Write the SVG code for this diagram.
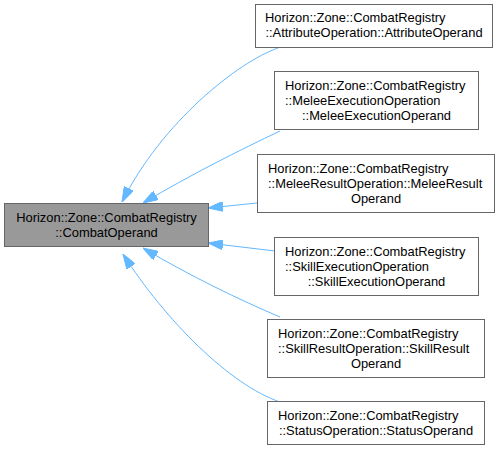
<svg xmlns="http://www.w3.org/2000/svg" width="501" height="451" viewBox="0 0 501 451">
<style>
.box{fill:#ffffff;stroke:#666666;stroke-width:1}
.main{fill:#999999;stroke:#666666;stroke-width:1}
text{font-family:"Liberation Sans",Arial,sans-serif;font-size:12.9px;fill:#000000}
.c{text-anchor:middle}
.edge{fill:none;stroke:#63b8ff;stroke-width:1}
</style>
<defs>
<marker id="ah" markerUnits="userSpaceOnUse" viewBox="0 0 15 10" refX="15" refY="5" markerWidth="15" markerHeight="10" orient="auto">
<path d="M0,0 L15,5 L0,10 Z" fill="#63b8ff" stroke="#63b8ff" stroke-width="1"/>
</marker>
</defs>
<rect width="501" height="451" fill="#ffffff"/>
<g id="connectors">
<path class="edge" marker-end="url(#ah)" d="M278,48 C238,62 162,122 122,202"/>
<path class="edge" marker-end="url(#ah)" d="M280,131 C240,150 190,175 143,203"/>
<path class="edge" marker-end="url(#ah)" d="M257,203 L208,208"/>
<path class="edge" marker-end="url(#ah)" d="M275,251 L208,243"/>
<path class="edge" marker-end="url(#ah)" d="M280,317 C240,300 190,276 143,248"/>
<path class="edge" marker-end="url(#ah)" d="M280,402 C230,385 165,320 123,254"/>
</g>
<g id="CombatOperand">
<rect class="main" x="4.5" y="203.5" width="204" height="43"/>
<text class="c" x="106.5" y="222">Horizon::Zone::CombatRegistry</text>
<text class="c" x="106.5" y="237">::CombatOperand</text>
</g>
<g id="AttributeOperand">
<rect class="box" x="255.5" y="4.5" width="237" height="43"/>
<text x="265" y="22">Horizon::Zone::CombatRegistry</text>
<text class="c" x="374" y="37">::AttributeOperation::AttributeOperand</text>
</g>
<g id="MeleeExecutionOperand">
<rect class="box" x="274.5" y="71.5" width="204" height="58"/>
<text x="285" y="90">Horizon::Zone::CombatRegistry</text>
<text x="285" y="105">::MeleeExecutionOperation</text>
<text class="c" x="376.5" y="120">::MeleeExecutionOperand</text>
</g>
<g id="MeleeResultOperand">
<rect class="box" x="257.5" y="154.5" width="237" height="58"/>
<text x="268" y="173">Horizon::Zone::CombatRegistry</text>
<text x="268" y="188">::MeleeResultOperation::MeleeResult</text>
<text class="c" x="376" y="203">Operand</text>
</g>
<g id="SkillExecutionOperand">
<rect class="box" x="274.5" y="237.5" width="204" height="58"/>
<text x="285" y="256">Horizon::Zone::CombatRegistry</text>
<text x="285" y="271">::SkillExecutionOperation</text>
<text class="c" x="376.5" y="286">::SkillExecutionOperand</text>
</g>
<g id="SkillResultOperand">
<rect class="box" x="267.5" y="319.5" width="217" height="58"/>
<text x="278" y="338">Horizon::Zone::CombatRegistry</text>
<text x="278" y="353">::SkillResultOperation::SkillResult</text>
<text class="c" x="376" y="368">Operand</text>
</g>
<g id="StatusOperand">
<rect class="box" x="267.5" y="401.5" width="217" height="43"/>
<text x="278" y="420">Horizon::Zone::CombatRegistry</text>
<text class="c" x="376" y="435">::StatusOperation::StatusOperand</text>
</g>
</svg>
